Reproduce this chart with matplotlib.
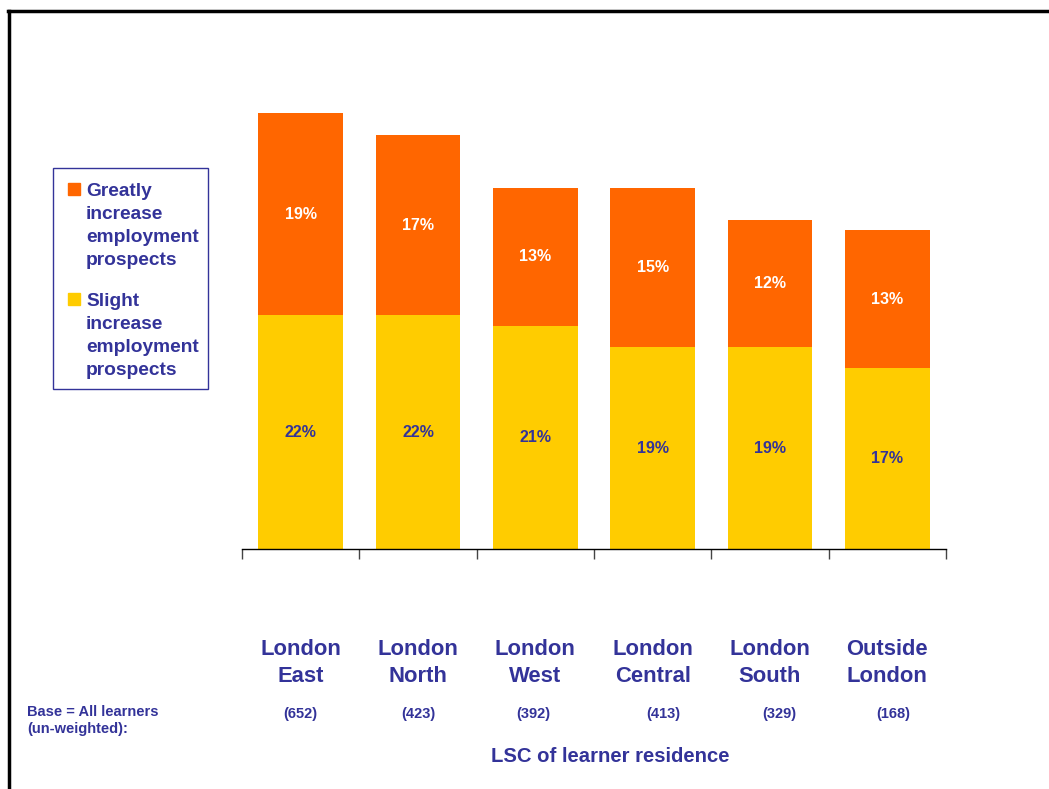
import matplotlib.pyplot as plt
from matplotlib.patches import Rectangle
from matplotlib.lines import Line2D
import numpy as np

plt.rcParams['font.family'] = ['Liberation Sans', 'DejaVu Sans']

regions = ["London\nEast", "London\nNorth", "London\nWest", "London\nCentral", "London\nSouth", "Outside\nLondon"]
slight = [22, 22, 21, 19, 19, 17]
greatly = [19, 17, 13, 15, 12, 13]
bases = [652, 423, 392, 413, 329, 168]

navy = "#333399"
orange = "#FF6600"
yellow = "#FFCC00"

W, H = 1049, 789
fig = plt.figure(figsize=(W / 100, H / 100), dpi=100)
ax = fig.add_axes([242 / W, 1 - 549 / H, (946 - 242) / W, 478 / H])

x = np.arange(len(regions))
ax.bar(x, slight, width=0.72, color=yellow)
ax.bar(x, greatly, width=0.72, bottom=slight, color=orange)

for i in range(len(regions)):
    ax.text(x[i], slight[i] / 2, f"{slight[i]}%", ha="center", va="center",
            color=navy, fontsize=11.5, fontweight="bold")
    ax.text(x[i], slight[i] + greatly[i] / 2, f"{greatly[i]}%", ha="center", va="center",
            color="white", fontsize=11.5, fontweight="bold")

ax.set_xlim(-0.5, len(regions) - 0.5)
ax.set_ylim(0, 45)
for s in ["top", "right", "left"]:
    ax.spines[s].set_visible(False)
ax.spines["bottom"].set_color("black")
ax.spines["bottom"].set_linewidth(1)
ax.set_yticks([])
ax.set_xticks([])
ax.set_xticks(np.arange(len(regions) + 1) - 0.5, minor=True)
ax.tick_params(axis="x", which="minor", length=7, width=1, color="#444444", labelbottom=False)

# category names below the axis
for i, name in enumerate(regions):
    ax.text(x[i], -10.75, name, ha="center", va="center", color=navy,
            fontsize=15.8, fontweight="bold", linespacing=1.4)

# base counts
base_shift = [0.0, 0.0, -0.02, 0.09, 0.08, 0.05]
for i, n in enumerate(bases):
    ax.text(x[i] + base_shift[i], -15.5, f"({n})", ha="center", va="center",
            color=navy, fontsize=10.5, fontweight="bold")

fig.text(27 / W, 1 - 712 / H, "Base = All learners", ha="left", va="center",
         color=navy, fontsize=10.5, fontweight="bold")
fig.text(27 / W, 1 - 729 / H, "(un-weighted):", ha="left", va="center",
         color=navy, fontsize=10.5, fontweight="bold")
fig.text(610 / W, 1 - 757 / H, "LSC of learner residence", ha="center", va="center",
         color=navy, fontsize=14.6, fontweight="bold")

# legend box
fig.patches.append(Rectangle((53 / W, 1 - 389 / H), (208 - 53) / W, (389 - 168) / H,
                             transform=fig.transFigure, fill=False, edgecolor=navy, lw=1))
legend_items = [(orange, "Greatly\nincrease\nemployment\nprospects", 189),
                (yellow, "Slight\nincrease\nemployment\nprospects", 299)]
for col, label, ytop in legend_items:
    fig.patches.append(Rectangle((68 / W, 1 - (ytop + 6) / H), 12 / W, 12 / H,
                                 transform=fig.transFigure, color=col))
    fig.text(86 / W, 1 - (ytop - 6) / H, label, ha="left", va="top", color=navy,
             fontsize=13.8, fontweight="bold", linespacing=1.45)

# frame lines
fig.lines.append(Line2D([8.5 / W, 8.5 / W], [0, 1 - 10.5 / H], transform=fig.transFigure,
                        color="black", lw=2.5))
fig.lines.append(Line2D([7.5 / W, 1], [1 - 10.5 / H, 1 - 10.5 / H], transform=fig.transFigure,
                        color="black", lw=2.5))

fig.savefig("out.png", dpi=100)
